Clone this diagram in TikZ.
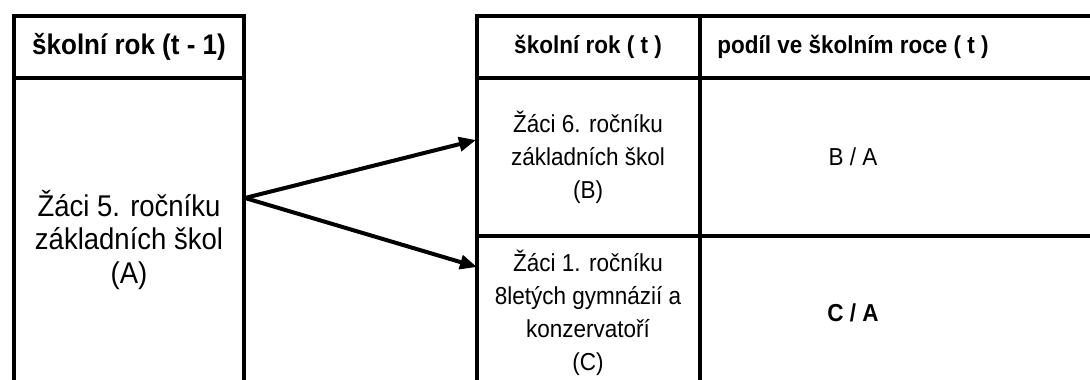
\documentclass[tikz,border=0pt]{standalone}
\usepackage{fontspec}
\setmainfont{Liberation Sans}
\usetikzlibrary{arrows.meta}

\tikzset{
  tableline/.style={line width=4pt},
  flow/.style={line width=4pt, -{Triangle[length=17pt,width=14pt]}},
  txt/.style={align=center, yscale=1.09, transform shape},
  lefttxt/.style={txt, font=\fontsize{27.5}{30.3}\selectfont},
  lefthead/.style={txt, font=\bfseries\fontsize{26}{30}\selectfont},
  righttxt/.style={txt, font=\fontsize{22.5}{30.3}\selectfont},
  righthead/.style={txt, font=\bfseries\fontsize{22.5}{30.3}\selectfont}
}

\begin{document}
\begin{tikzpicture}[x=1pt,y=1pt]
  \useasboundingbox (0,0) rectangle (1090,380);
  \def\topY{364}
  \def\headY{302}
  \def\midY{144}

  % left column: year t-1
  \draw[tableline] (14,-6) |- (244,\topY) -- (244,-6);
  \draw[tableline] (14,\headY) -- (244,\headY);

  % right table: year t
  \draw[tableline] (1096,\topY) -| (477,-6);
  \draw[tableline] (700,\topY) -- (700,-6);
  \draw[tableline] (477,\headY) -- (1096,\headY);
  \draw[tableline] (477,\midY) -- (1096,\midY);

  \node[lefthead] (hdprev) at (129,333) {školní rok (t - 1)};
  \node[lefttxt] (pupA) at (129,140) {Žáci 5. ročníku\\základních škol\\(A)};

  \node[righthead] (hdcur) at (588,333) {školní rok ( t )};
  \node[righthead] (hdshare) at (853,333) {podíl ve školním roce ( t )};
  \node[righttxt] (pupB) at (588,223) {Žáci 6. ročníku\\základních škol\\(B)};
  \node[righttxt] (pupC) at (588,67) {Žáci 1. ročníku\\8letých gymnázií a\\konzervatoří\\(C)};
  \node[righttxt] (shareB) at (853,223) {B / A};
  \node[righthead] (shareC) at (853,67) {C / A};

  % transitions
  \coordinate (fork) at (245,182);
  \coordinate (inB) at (476,240);
  \coordinate (inC) at (477,113);
  \draw[flow] (fork) -- (inB);
  \draw[flow] (fork) -- (inC);
\end{tikzpicture}
\end{document}
